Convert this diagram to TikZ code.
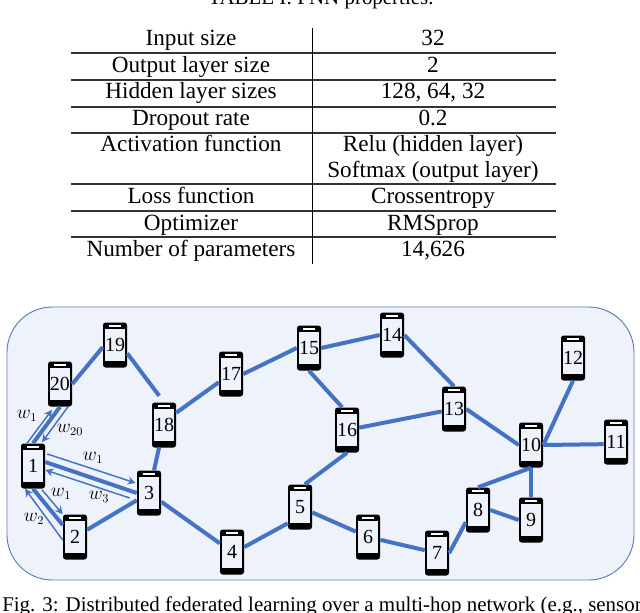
\documentclass[tikz,border=0pt]{standalone}
\usepackage{fontspec}
\setmainfont{Liberation Serif}
\usepackage{xcolor}
\usetikzlibrary{arrows.meta,calc}
\definecolor{panelfill}{HTML}{EDF2FB}
\definecolor{paneledge}{HTML}{5B7DB8}
\definecolor{linkblue}{HTML}{4472C4}
\tikzset{
  cell/.style={anchor=base,inner sep=0pt,font=\fontsize{17.4}{20}\selectfont},
  capline/.style={inner sep=0pt,font=\fontsize{15.7}{18}\selectfont},
  rule/.style={line width=0.9pt,black!80},
  phone/.style={rectangle,rounded corners=2pt,fill=black,inner sep=0pt,
    minimum width=18pt,minimum height=33.75pt,font=\fontsize{15}{16}\selectfont,
    path picture={
      \fill[panelfill,sharp corners] ([shift={(1.3pt,-5pt)}]path picture bounding box.north west)
        rectangle ([shift={(-1.3pt,5pt)}]path picture bounding box.south east);
      \fill[white,sharp corners] ([shift={(-4.5pt,-1.8pt)}]path picture bounding box.north)
        rectangle ([shift={(4.5pt,-3pt)}]path picture bounding box.north);
    }},
  link/.style={linkblue,line width=3pt},
  thinlink/.style={linkblue,line width=1.1pt,-{Stealth[length=6pt,width=6pt]}},
  wlabel/.style={inner sep=0pt,font=\fontsize{13.5}{15}\selectfont}
}
\begin{document}
\begin{tikzpicture}[x=0.75pt,y=-0.75pt]
  \useasboundingbox (0,0) rectangle (640,612);

  % Table caption, cut by the page edge
  \node[capline,anchor=base] (tabcap) at (321,4) {TABLE I: FNN properties.};

  % Table rows
  \foreach \y/\lft/\rgt in {45/Input size/32,72/Output layer size/2,
      98/Hidden layer sizes/{128, 64, 32},125/Dropout rate/0.2,
      151/Activation function/Relu (hidden layer),177//Softmax (output layer),
      203/Loss function/Crossentropy,230/Optimizer/RMSprop,
      256/Number of parameters/{14,626}} {
    \node[cell] (lft\y) at (191,\y) {\lft};
    \node[cell] (rgt\y) at (433,\y) {\rgt};
  }
  \foreach \y in {53,80,107,133,184,211,237} {
    \draw[rule] (71,\y) -- (556,\y);
  }
  \draw[line width=0.7pt] (312,28) -- (312,264);

  % Panel
  \draw[fill=panelfill,draw=paneledge,line width=0.7pt,rounded corners=34pt]
    (7,307) rectangle (634,580);

  % Phones
  \foreach \n/\x/\y in {1/33/466,2/75/537,3/149/493,4/232/552,5/300/507,
      6/368/537,7/437/553,8/478/510,9/531/520,10/531/445,11/616/442,
      12/573/358,13/454/409,14/392/335,15/309/348,16/347/430,17/231/374,
      18/164/425,19/115/345,20/60/384} {
    \node[phone] (n\n) at (\x,\y) {\n};
  }

  % Links
  \foreach \a/\b in {n20.east/n19.190,n18.45/n17.214,n18/n3,n3/n4,n2/n3,
      n4.22/n5.233,n5/n6,n6/n7,n7.east/n8.225,n8.east/n9.west,n8.north/n10.south,
      n9.north/n10.south,n10.east/n11.190,n10.east/n12.south,n10.west/n13.east,
      n16/n13,n14.east/n13.north,n15.east/n14.west,n17.east/n15.west,
      n15.south/n16.102,n16.south/n5.78} {
    \draw[link] (\a) -- (\b);
  }
  \draw[link,shorten >=6pt] (n19.-34) -- (n18.north);

  % Node 1 to its neighbours
  \draw[link] (n1.north) -- (n20.south);
  \draw[thinlink] ($(n1.north)+(-6,0)$) -- ($(n20.south)+(-8,3)$);
  \draw[thinlink] ($(n20.south)+(8,0)$) -- ($(n1.north)+(9,-1)$);
  \draw[link] ($(n1.east)+(0,-4)$) -- (n3.west);
  \draw[thinlink] ($(n1.east)+(2,-12)$) -- ($(n3.west)+(-1,-10)$);
  \draw[thinlink] ($(n3.west)+(-7,5)$) -- ($(n1.east)+(0,4)$);
  \draw[link] (n1.south) -- ($(n2.west)+(0,-12)$);
  \draw[thinlink] ($(n1.south)+(9,1)$) -- (n2.north west);
  \draw[thinlink] ($(n2.west)+(0,3)$) -- ($(n1.south)+(-8,0)$);

  % Weights
  \node[wlabel] (w1a) at (27,416) {$w_1$};
  \node[wlabel] (w20) at (70,430) {$w_{20}$};
  \node[wlabel] (w1b) at (93,458) {$w_1$};
  \node[wlabel] (w3) at (99,497) {$w_3$};
  \node[wlabel] (w1c) at (61,494) {$w_1$};
  \node[wlabel] (w2) at (34,519) {$w_2$};

  % Figure caption, cut by the page edge
  \node[capline,anchor=base west] (figcap) at (2,611)
    {Fig. 3: Distributed federated learning over a multi-hop network (e.g., sensor};
\end{tikzpicture}
\end{document}
